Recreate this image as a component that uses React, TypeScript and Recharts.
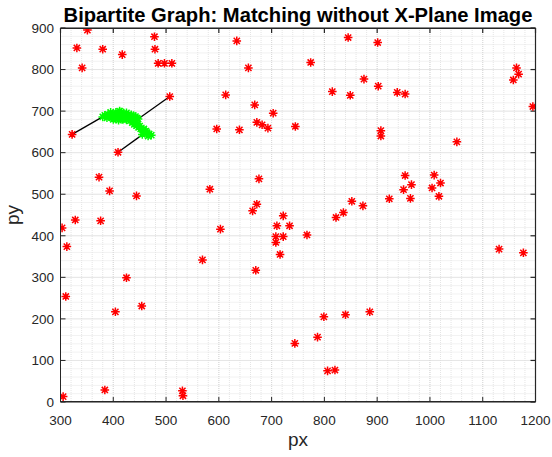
import React from 'react';
import { ScatterChart, Scatter, XAxis, YAxis, CartesianGrid } from 'recharts';

// unmatched / candidate points (red)
const redX = [351, 331, 341, 380, 417, 478, 479, 485, 497, 511, 507, 322, 409, 613, 596, 639, 634, 656,
  845, 901, 774, 875, 902, 815, 849, 938, 953, 668, 703, 672, 682, 693, 745, 907, 907, 1051, 1195,
  1164, 1168, 1158, 676, 953, 1008, 965, 1020, 950, 1004, 963, 1017, 923, 672, 664, 722, 852, 873,
  836, 822, 710, 734, 708, 722, 708, 767, 716, 670, 1131, 1177, 799, 840, 886, 787, 744, 806, 820,
  373, 393, 444, 328, 376, 303, 312, 425, 310, 404, 454, 305, 384, 531, 532, 583, 603, 569];
const redY = [895, 852, 804, 849, 836, 879, 849, 815, 815, 815, 735, 644, 601, 739, 657, 655, 869, 804,
  877, 865, 817, 777, 760, 747, 738, 745, 741, 715, 695, 673, 667, 659, 663, 653, 640, 626, 711,
  804, 789, 775, 537, 545, 546, 523, 527, 511, 515, 490, 495, 489, 476, 460, 448, 483, 472,
  456, 444, 424, 424, 398, 398, 384, 402, 355, 317, 368, 359, 205, 210, 217, 156, 141, 75, 77,
  541, 508, 496, 438, 436, 419, 374, 299, 254, 217, 231, 13, 29, 27, 15, 512, 416, 342];

// projected cluster (green)
const greenX = [380, 384, 388, 390, 393, 396, 398, 400, 402, 404, 406, 408, 410, 412, 414, 416, 418,
  420, 422, 424, 426, 428, 430, 432, 434, 436, 438, 440, 442, 445, 447, 400, 410, 418, 425, 432,
  395, 405, 415, 425, 412, 436, 440, 444, 448, 452, 456, 460, 464, 468, 472, 450, 458, 462, 455,
  445, 466];
const greenY = [686, 690, 684, 692, 688, 685, 691, 687, 683, 689, 693, 686, 690, 684, 694, 688, 691,
  685, 689, 692, 686, 690, 683, 688, 691, 685, 689, 684, 687, 683, 681, 680, 678, 680, 679, 677,
  697, 697, 698, 696, 700, 672, 668, 665, 661, 657, 654, 650, 648, 645, 642, 664, 657, 652, 644,
  670, 640];

// matching edges: red point -> green point
const edgeFrom = [[322, 644], [507, 735], [409, 601]];
const edgeTo = [[378, 685], [447, 681], [456, 644]];

const xTicks = [300, 400, 500, 600, 700, 800, 900, 1000, 1100, 1200];
const yTicks = [0, 100, 200, 300, 400, 500, 600, 700, 800, 900];
const X_DOMAIN = [300, 1200];
const Y_DOMAIN = [0, 900];

const minorX: number[] = [];
for (let v = 300; v <= 1200; v += 20) minorX.push(v);
const minorY: number[] = [];
for (let v = 0; v <= 900; v += 20) minorY.push(v);

const redPts = redX.map((x, i) => ({ x, y: redY[i] }));
const greenPts = greenX.map((x, i) => ({ x, y: greenY[i] }));
const edges = edgeFrom.map((p, i) => [
  { x: p[0], y: p[1] },
  { x: edgeTo[i][0], y: edgeTo[i][1] },
]);

const FONT = '"Liberation Sans", Arial, Helvetica, sans-serif';
const AXIS = '#262626';

const Asterisk = (color: string) => (props: any) => {
  const { cx, cy } = props;
  if (cx == null || cy == null) return <g />;
  const r = 4.3;
  const d = r * 0.72;
  return (
    <path
      d={`M${cx - r},${cy}H${cx + r}M${cx},${cy - r}V${cy + r}M${cx - d},${cy - d}L${cx + d},${cy + d}M${cx - d},${cy + d}L${cx + d},${cy - d}`}
      stroke={color}
      strokeWidth={1.5}
      fill="none"
    />
  );
};

const Empty = () => <g />;

// minor grid positions, mapped linearly over the plot area
const minorV = ({ offset }: any) =>
  minorX.map((v) => offset.left + ((v - X_DOMAIN[0]) / (X_DOMAIN[1] - X_DOMAIN[0])) * offset.width);
const minorH = ({ offset }: any) =>
  minorY.map((v) => offset.top + offset.height - ((v - Y_DOMAIN[0]) / (Y_DOMAIN[1] - Y_DOMAIN[0])) * offset.height);

const tickStyle = { fill: AXIS, fontSize: 13.5, fontFamily: FONT };

export default function App() {
  return (
    <div style={{ position: 'absolute', left: 0, top: 0, width: 552, height: 457, background: '#fff', fontFamily: FONT }}>
      <div
        style={{
          position: 'absolute',
          top: 5,
          left: 0,
          width: 596,
          textAlign: 'center',
          fontSize: 20.2,
          lineHeight: '20px',
          fontWeight: 'bold',
          color: '#000',
          whiteSpace: 'nowrap',
        }}
      >
        Bipartite Graph: Matching without X-Plane Image
      </div>
      <ScatterChart width={552} height={457} margin={{ top: 18, right: 6.5, bottom: 5, left: 0 }}>
        <CartesianGrid
          stroke="#e4e4e4"
          strokeDasharray="1 1"
          verticalCoordinatesGenerator={minorV}
          horizontalCoordinatesGenerator={minorH}
        />
        <CartesianGrid stroke="#d8d8d8" strokeDasharray="1 1" />
        <XAxis
          type="number"
          dataKey="x"
          domain={X_DOMAIN}
          ticks={xTicks}
          height={50}
          tickSize={-5}
          tickMargin={18}
          stroke={AXIS}
          tick={tickStyle}
          allowDataOverflow
          label={{ value: 'px', position: 'insideBottom', offset: 6, fill: AXIS, fontSize: 19, fontFamily: FONT }}
        />
        <YAxis
          type="number"
          dataKey="y"
          domain={Y_DOMAIN}
          ticks={yTicks}
          width={60.5}
          tickSize={-5}
          tickMargin={11.5}
          stroke={AXIS}
          tick={tickStyle}
          allowDataOverflow
          label={{
            content: () => (
              <text x={19} y={215} transform="rotate(-90 19 215)" textAnchor="middle" fill={AXIS} fontSize={19} fontFamily={FONT}>
                py
              </text>
            ),
          }}
        />
        {/* box: top and right axes with inward ticks */}
        <XAxis xAxisId="top" orientation="top" type="number" dataKey="x" domain={X_DOMAIN} ticks={xTicks} height={10} tickSize={-5} tick={Empty} stroke={AXIS} strokeWidth={1.2} allowDataOverflow />
        <YAxis yAxisId="right" orientation="right" type="number" dataKey="y" domain={Y_DOMAIN} ticks={yTicks} width={10} tickSize={-5} tick={Empty} stroke={AXIS} strokeWidth={1.2} allowDataOverflow />
        <Scatter xAxisId="top" yAxisId="right" data={redPts} shape={Empty} legendType="none" isAnimationActive={false} />
        {edges.map((seg, i) => (
          <Scatter
            key={i}
            data={seg}
            line={{ stroke: '#000', strokeWidth: 1.3 }}
            shape={Empty}
            isAnimationActive={false}
          />
        ))}
        <Scatter data={greenPts} shape={Asterisk('#00ff00')} isAnimationActive={false} />
        <Scatter data={redPts} shape={Asterisk('#ff0000')} isAnimationActive={false} />
      </ScatterChart>
      {/* plot frame */}
      <div
        style={{
          position: 'absolute',
          left: 60,
          top: 28,
          width: 476,
          height: 374,
          boxSizing: 'border-box',
          border: `1px solid ${AXIS}`,
          pointerEvents: 'none',
        }}
      />
    </div>
  );
}
